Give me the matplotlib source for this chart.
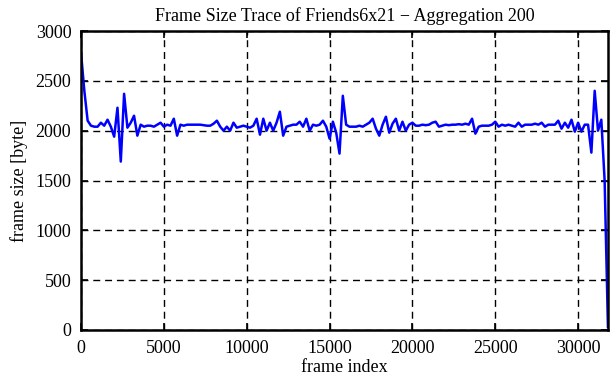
import numpy as np
import matplotlib
matplotlib.use("Agg")
import matplotlib.pyplot as plt

plt.rcParams['font.family'] = ['Liberation Serif', 'DejaVu Serif']

# aggregated frame sizes, one value per 200 frames
step = 200
frame_size = [
    2780, 2400, 2100, 2050, 2040, 2040, 2080, 2050, 2110, 2040,
    1940, 2230, 1690, 2370, 2030, 2080, 2150, 1950, 2060, 2040,
    2050, 2050, 2040, 2060, 2080, 2040, 2060, 2050, 2120, 1950,
    2060, 2050, 2060, 2060, 2060, 2060, 2060, 2055, 2050, 2050,
    2070, 2100, 2040, 2000, 2040, 2000, 2080, 2030, 2040, 2050,
    2040, 2030, 2050, 2120, 1960, 2120, 2000, 2080, 2000, 2080,
    2190, 1950, 2040, 2050, 2060, 2060, 2090, 2040, 2120, 2000,
    2060, 2050, 2060, 2100, 2040, 1920, 2090, 1980, 1770, 2350,
    2060, 2040, 2040, 2040, 2050, 2040, 2060, 2080, 2120, 2020,
    1950, 2060, 2140, 1980, 2070, 2120, 2000, 2090, 2000, 2060,
    2080, 2050, 2050, 2060, 2055, 2060, 2080, 2090, 2040, 2050,
    2060, 2055, 2060, 2060, 2065, 2060, 2070, 2060, 2120, 1970,
    2040, 2050, 2050, 2050, 2060, 2090, 2040, 2060, 2050, 2060,
    2050, 2040, 2080, 2040, 2060, 2060, 2060, 2070, 2060, 2080,
    2040, 2060, 2060, 2060, 2100, 2020, 2080, 2030, 2110, 1990,
    2080, 1990, 2060, 2060, 1780, 2400, 2000, 2110, 1500, 30,
]
frame_index = np.arange(len(frame_size)) * step

fig = plt.figure(figsize=(6.11, 3.8), dpi=100)
ax = fig.add_axes([0.1326, 0.1316, 0.8624, 0.7868])

ax.plot(frame_index, frame_size, color='#0000ff', lw=1.8)

ax.set_xlim(0, frame_index[-1])
ax.set_ylim(0, 3000)
ax.set_xticks(np.arange(0, 30001, 5000))
ax.set_yticks(np.arange(0, 3001, 500))
ax.grid(True, color='black', linestyle=(0, (5, 3.5)), lw=1)
ax.tick_params(direction='in', length=5, width=1.2, top=True, right=True,
               labelsize=13, pad=7, colors='black')
for s in ax.spines.values():
    s.set_linewidth(1.8)

ax.set_title('Frame Size Trace of Friends6x21 \u2212 Aggregation 200', fontsize=13, pad=7)
ax.set_xlabel('frame index', fontsize=13, labelpad=2)
ax.set_ylabel('frame size [byte]', fontsize=13, labelpad=5)

fig.savefig('out.png', dpi=100)
